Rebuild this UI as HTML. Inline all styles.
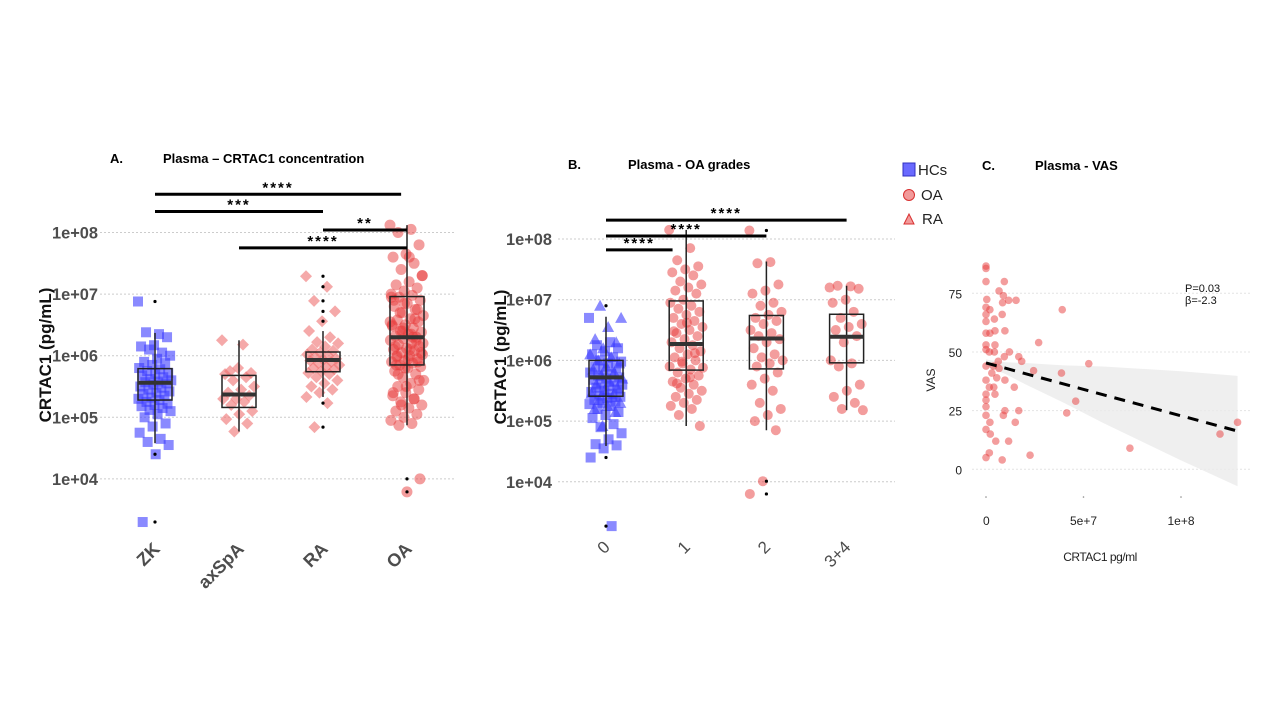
<!DOCTYPE html>
<html><head><meta charset="utf-8"><style>
body{margin:0;background:#fff}
svg{display:block}
text{font-family:"Liberation Sans",Arial,sans-serif}
</style></head><body>
<svg id="fig" width="1280" height="720" viewBox="0 0 1280 720" xmlns="http://www.w3.org/2000/svg">
<rect width="1280" height="720" fill="#fff"/>
<g id="gA"></g>
<g id="gB"></g>
<g id="gC"></g>
<g font-size="15" fill="#222">
  <rect x="903" y="163" width="12" height="13" fill="#6a6aff" stroke="#3030c0" stroke-width="1"/>
  <text x="918" y="175">HCs</text>
  <circle cx="909" cy="195" r="5.5" fill="#f29a9a" stroke="#d83030"/>
  <text x="921" y="200">OA</text>
  <path d="M904,224 L909,214 L914,224 Z" fill="#f29a9a" stroke="#d83030"/>
  <text x="922" y="224">RA</text>
</g>
</svg>
<script>
// ---------- Panel A data (log10 pg/mL) ----------
const catsA = ["ZK","axSpA","RA","OA"];
const yTicksA = [8,7,6,5,4];
const yTickLabelsA = ["1e+08","1e+07","1e+06","1e+05","1e+04"];
const zkLog = [6.88,6.35,6.38,6.3,6.17,6.15,6.05,6.1,6.0,5.95,5.9,5.88,5.85,5.8,5.78,5.75,5.72,5.7,5.68,5.65,5.62,5.6,5.58,5.57,5.55,5.53,5.5,5.48,5.45,5.42,5.4,5.38,5.35,5.32,5.3,5.28,5.25,5.22,5.2,5.18,5.15,5.12,5.1,5.05,5.0,4.9,4.85,4.75,4.65,4.6,4.55,4.4,3.3];
const axLog = [6.25,6.18,5.75,5.72,5.8,5.7,5.65,5.6,5.5,5.45,5.4,5.35,5.3,5.3,5.25,5.2,5.1,5.05,4.97,4.9,4.77];
const raLog = [7.29,7.12,6.89,6.72,6.56,6.4,6.3,6.22,6.2,6.15,6.1,6.08,6.05,6.02,6.0,5.98,5.95,5.93,5.92,5.9,5.88,5.85,5.82,5.8,5.78,5.75,5.72,5.7,5.65,5.6,5.55,5.5,5.45,5.4,5.33,5.23,4.84];
const oaLog = [8.12,8.05,8.0,7.8,7.65,7.6,7.5,7.4,7.3,7.2,7.15,7.1,7.05,7.0,6.98,6.95,6.9,6.85,6.8,6.75,6.7,6.65,6.6,6.58,6.55,6.5,6.48,6.45,6.4,6.38,6.35,6.32,6.3,6.28,6.25,6.2,6.18,6.15,6.12,6.1,6.08,6.05,6.02,6.0,5.98,5.95,5.92,5.9,5.88,5.85,5.82,5.8,5.75,5.7,5.65,5.6,5.55,5.5,5.45,5.4,5.35,5.3,5.25,5.2,5.15,5.1,5.05,5.0,4.95,4.9,4.87,4.0,3.79,6.9,6.6,6.4,6.2,6.1,6.0,5.9,5.8,6.5,6.3,6.7,6.05,5.95,6.15,6.25,6.45,6.55,6.35,5.7,5.6,5.5,5.4,5.3,5.2,7.3,7.6,5.85,6.75,6.85,6.95];
// box stats: [whiskerLow, q1, median, q3, whiskerHigh]
const boxA = [[4.58,5.28,5.56,5.79,6.37],[4.77,5.16,5.37,5.68,6.25],[5.33,5.74,5.93,6.06,6.4],[4.87,5.85,6.30,6.96,8.12]];
const outA = [[6.88,4.4,3.3],[],[7.29,7.12,6.89,6.72,6.56,5.23,4.84],[4.0,3.79]];
const sigA = [[0,2.93,8.62,"****"],[0,2,8.34,"***"],[2,3,8.04,"**"],[1,3,7.75,"****"]];

// ---------- Panel B data ----------
const catsB = ["0","1","2","3+4"];
const b0SqLog = [6.7,6.3,6.25,6.2,6.15,6.1,6.05,6.0,5.98,5.95,5.9,5.88,5.85,5.8,5.78,5.75,5.72,5.7,5.68,5.65,5.62,5.6,5.58,5.55,5.52,5.5,5.48,5.45,5.42,5.4,5.38,5.35,5.32,5.3,5.28,5.25,5.2,5.15,5.1,5.05,4.95,4.9,4.8,4.7,4.62,4.6,4.55,4.4,3.27];
const b0TriLog = [6.9,6.7,6.55,6.35,6.3,6.2,6.1,6.05,6.0,5.95,5.9,5.85,5.8,5.75,5.7,5.65,5.6,5.55,5.5,5.45,5.4,5.35,5.3,5.25,5.2,5.15,4.92];
const b1Log = [8.15,7.85,7.65,7.55,7.5,7.45,7.4,7.3,7.25,7.2,7.15,7.1,7.0,6.95,6.9,6.85,6.8,6.75,6.7,6.65,6.6,6.55,6.5,6.45,6.4,6.35,6.3,6.25,6.2,6.15,6.1,6.05,6.0,5.95,5.9,5.85,5.8,5.75,5.7,5.65,5.6,5.55,5.5,5.45,5.4,5.35,5.3,5.25,5.2,5.1,4.92,6.62,6.48,6.12,5.98,5.88,5.72,5.62];
const b2Log = [8.14,7.62,7.6,7.25,7.15,7.1,6.95,6.9,6.8,6.75,6.7,6.65,6.6,6.5,6.45,6.4,6.35,6.3,6.2,6.1,6.05,6.0,5.95,5.9,5.8,5.7,5.6,5.5,5.3,5.2,5.1,5.0,4.85,4.01,3.8];
const b34Log = [7.2,7.22,7.23,7.18,7.0,6.95,6.8,6.7,6.6,6.55,6.5,6.4,6.3,6.0,5.95,5.9,5.6,5.5,5.4,5.3,5.2,5.18];
const boxB = [[4.59,5.41,5.72,6.0,6.72],[4.92,5.84,6.27,6.98,8.15],[4.85,5.86,6.36,6.74,7.63],[5.18,5.96,6.39,6.76,7.23]];
const outB = [[6.9,4.4,3.27],[],[8.14,4.01,3.8],[]];
const sigB = [[0,3,8.31,"****"],[0,2,8.05,"****"],[0,0.83,7.82,"****"]];

// ---------- Panel C data (x in 1e6 pg/ml, y VAS) ----------
const vasX = [0,0,0,9.4,6.7,8.9,8.5,11.6,15.4,0.4,0,2,39.1,0,8.3,4.3,0,9.7,4.6,0,2,4.6,0,27,0,1.7,4.3,12,9.4,16.8,18.3,6.3,52.7,0,3.8,6.7,24.4,38.7,3,5.5,9.7,0,1.7,4,14.5,0,4.6,0,46,0,9.7,16.8,8.9,41.4,0,2,15,129,120,0,2.2,5,11.6,73.8,1.7,22.6,0,8.3];
const vasY = [86.6,85.6,80,80,76,74,71,72,72,72.4,69,68,68,66,66,64,63,59,59,58,58,53,53,54,51,50,50,50,48,48,46,46,45,44,44,43,42,41,41,39,38,38,35,35,35,32,32,29.5,29,26.7,25,25,23,24,23,20,20,20,15,17,15,12,12,9,7,6,5,4];
const fitX = [0,10,20,40,60,80,100,129];
const fitY = [45.3,43.1,40.8,36.3,31.8,27.3,22.8,16.3];
const fitHW = [1.5,2.5,4.5,8,12,15.5,19,23.5];
const xTicksC = [0,50,100];
const xTickLabelsC = ["0","5e+7","1e+8"];
const yTicksC = [0,25,50,75];

const NS="http://www.w3.org/2000/svg";
function mk(parent,tag,attrs,txt){const e=document.createElementNS(NS,tag);for(const k in attrs)e.setAttribute(k,attrs[k]);if(txt!==undefined)e.textContent=txt;parent.appendChild(e);return e;}
function jit(i){return ((i*0.618034)%1-0.5)*2;}

const xA = i => 155 + i*84;
const yA = v => 232.5 + (8 - v)*61.6;
const xB = i => 606 + i*80.2;
const yB = v => 239 + (8 - v)*60.7;
const xC = v => 986 + v*1.95;
const yC = v => 469.3 - v*2.347;

function square(g,cx,cy,name){const e=mk(g,'rect',{x:cx-5,y:cy-5,width:10,height:10,fill:'#3c3cff','fill-opacity':0.6});}
function diamond(g,cx,cy,name){const e=mk(g,'path',{d:`M${cx},${cy-6}L${cx+6},${cy}L${cx},${cy+6}L${cx-6},${cy}Z`,fill:'#ee7070','fill-opacity':0.6});}
function circ(g,cx,cy,r,name){const e=mk(g,'circle',{cx:cx,cy:cy,r:r,fill:'#e83c3c','fill-opacity':0.5});}
function tri(g,cx,cy,name){const e=mk(g,'path',{d:`M${cx},${cy-6}L${cx+6},${cy+5}L${cx-6},${cy+5}Z`,fill:'#3c3cff','fill-opacity':0.6});}

function drawBox(g,x,st,yf,name){
  const bw=17;
  const w=mk(g,'line',{x1:x,x2:x,y1:yf(st[4]),y2:yf(st[0]),stroke:'#222','stroke-width':1.5});
  
  const r=mk(g,'rect',{x:x-bw,y:yf(st[3]),width:2*bw,height:yf(st[1])-yf(st[3]),fill:'none',stroke:'#222','stroke-width':1.5});
  
  const m=mk(g,'line',{x1:x-bw,x2:x+bw,y1:yf(st[2]),y2:yf(st[2]),stroke:'#333','stroke-width':4});
  
}
function drawOut(g,x,arr,yf,name){arr.forEach(v=>{const d=mk(g,'circle',{cx:x,cy:yf(v),r:1.6,fill:'#000'});});}
function drawSig(g,xf,yf,s,name){
  const l=mk(g,'line',{x1:xf(s[0]),x2:xf(s[1]),y1:yf(s[2]),y2:yf(s[2]),stroke:'#000','stroke-width':3});
  
  const t=mk(g,'text',{x:(xf(s[0])+xf(s[1]))/2,y:yf(s[2])-2,'text-anchor':'middle','font-size':15,'font-weight':'bold','letter-spacing':2},s[3]);
  
}
function yLabel(g,x,y,txt){
  const t=mk(g,'text',{x:x,y:y,'text-anchor':'end','font-size':17,'font-weight':'bold',fill:'#4d4d4d',textLength:46,lengthAdjust:'spacingAndGlyphs'},txt);
  
}

// ---------- Panel A ----------
(function(){
const g=document.getElementById('gA');
yTicksA.forEach((v,i)=>{
  const l=mk(g,'line',{x1:100,x2:455,y1:yA(v),y2:yA(v),stroke:'#ccc','stroke-dasharray':'2,2'});
  
  yLabel(g,98,yA(v)+6,yTickLabelsA[i]);
});
const yt=mk(g,'text',{x:0,y:0,transform:'translate(51,355) rotate(-90)','text-anchor':'middle','font-size':17,'font-weight':'bold',fill:'#111'},'CRTAC1 (pg/mL)');

catsA.forEach((c,i)=>{
  const t=mk(g,'text',{x:0,y:0,transform:`translate(${xA(i)+6},${550}) rotate(-45)`,'text-anchor':'end','font-size':18,'font-weight':'bold',fill:'#4d4d4d'},c);
  
});
zkLog.forEach((v,i)=>square(g,xA(0)+jit(i)*17,yA(v),'zk-point'));
axLog.forEach((v,i)=>diamond(g,xA(1)+jit(i)*17,yA(v),'axspa-point'));
raLog.forEach((v,i)=>diamond(g,xA(2)+jit(i)*17,yA(v),'ra-point'));
oaLog.forEach((v,i)=>circ(g,xA(3)+jit(i)*17,yA(v),5.5,'oa-point'));
boxA.forEach((s,i)=>drawBox(g,xA(i),s,yA,'box-'+catsA[i].toLowerCase()));
outA.forEach((a,i)=>drawOut(g,xA(i),a,yA,catsA[i].toLowerCase()));
sigA.forEach((s,i)=>drawSig(g,xA,yA,s,'sig-a'+i));
const a=mk(g,'text',{x:110,y:163,'font-size':13,'font-weight':'bold'},'A.');
const tt=mk(g,'text',{x:163,y:163,'font-size':13,'font-weight':'bold'},'Plasma – CRTAC1 concentration');
})();

// ---------- Panel B ----------
(function(){
const g=document.getElementById('gB');
yTicksA.forEach((v,i)=>{
  const l=mk(g,'line',{x1:558,x2:895,y1:yB(v),y2:yB(v),stroke:'#ccc','stroke-dasharray':'2,2'});
  
  yLabel(g,552,yB(v)+6,yTickLabelsA[i]);
});
const yt=mk(g,'text',{x:0,y:0,transform:'translate(506,357) rotate(-90)','text-anchor':'middle','font-size':17,'font-weight':'bold',fill:'#111'},'CRTAC1 (pg/mL)');

catsB.forEach((c,i)=>{
  const t=mk(g,'text',{x:0,y:0,transform:`translate(${xB(i)+5},${548}) rotate(-45)`,'text-anchor':'end','font-size':17,fill:'#4d4d4d'},c);
  
});
b0SqLog.forEach((v,i)=>square(g,xB(0)+jit(i)*17,yB(v),'hc-point'));
b0TriLog.forEach((v,i)=>tri(g,xB(0)+jit(i+7)*17,yB(v),'ra-point'));
b1Log.forEach((v,i)=>circ(g,xB(1)+jit(i)*17,yB(v),5,'grade1-point'));
b2Log.forEach((v,i)=>circ(g,xB(2)+jit(i)*17,yB(v),5,'grade2-point'));
b34Log.forEach((v,i)=>circ(g,xB(3)+jit(i)*17,yB(v),5,'grade34-point'));
boxB.forEach((s,i)=>drawBox(g,xB(i),s,yB,'box-grade'+i));
outB.forEach((a,i)=>drawOut(g,xB(i),a,yB,'grade'+i));
sigB.forEach((s,i)=>drawSig(g,xB,yB,s,'sig-b'+i));
const a=mk(g,'text',{x:568,y:169,'font-size':13,'font-weight':'bold'},'B.');
const tt=mk(g,'text',{x:628,y:169,'font-size':13,'font-weight':'bold'},'Plasma - OA grades');
})();

// ---------- Panel C ----------
(function(){
const g=document.getElementById('gC');
yTicksC.forEach(v=>{
  const l=mk(g,'line',{x1:972,x2:1250,y1:yC(v),y2:yC(v),stroke:'#e4e4e4','stroke-dasharray':'2,2'});
  
  const t=mk(g,'text',{x:962,y:yC(v)+5,'text-anchor':'end','font-size':12,fill:'#222'},String(v));
  
});
xTicksC.forEach((v,i)=>{
  const d=mk(g,'circle',{cx:xC(v),cy:497,r:0.8,fill:'#888'});
  const t=mk(g,'text',{x:xC(v)-(i===0?3:0),y:525,'text-anchor':i===0?'start':'middle','font-size':12,fill:'#222'},xTickLabelsC[i]);
  
});
let top='',bot='';
fitX.forEach((x,i)=>{top+=(i?'L':'M')+xC(x)+','+yC(fitY[i]+fitHW[i]);});
for(let i=fitX.length-1;i>=0;i--){bot+='L'+xC(fitX[i])+','+yC(fitY[i]-fitHW[i]);}
const band=mk(g,'path',{d:top+bot+'Z',fill:'#ebebeb','fill-opacity':0.8});

vasX.forEach((x,i)=>circ(g,xC(x),yC(vasY[i]),3.8,'vas-point'));
let lp='';fitX.forEach((x,i)=>{lp+=(i?'L':'M')+xC(x)+','+yC(fitY[i]);});
const fl=mk(g,'path',{d:lp,fill:'none',stroke:'#000','stroke-width':3,'stroke-dasharray':'11,8'});

const yt=mk(g,'text',{x:0,y:0,transform:'translate(935,380) rotate(-90)','text-anchor':'middle','font-size':12,fill:'#222'},'VAS');

const xt=mk(g,'text',{x:1100,y:561,'text-anchor':'middle','font-size':12,fill:'#222','letter-spacing':-0.5},'CRTAC1 pg/ml');

const p=mk(g,'text',{x:1185,y:292,'font-size':11,fill:'#111'},'P=0.03');
const b=mk(g,'text',{x:1185,y:304,'font-size':11,fill:'#111'},'β=-2.3');
const a=mk(g,'text',{x:982,y:170,'font-size':13,'font-weight':'bold'},'C.');
const tt=mk(g,'text',{x:1035,y:170,'font-size':13,'font-weight':'bold'},'Plasma - VAS');
})();
</script>
</body></html>
